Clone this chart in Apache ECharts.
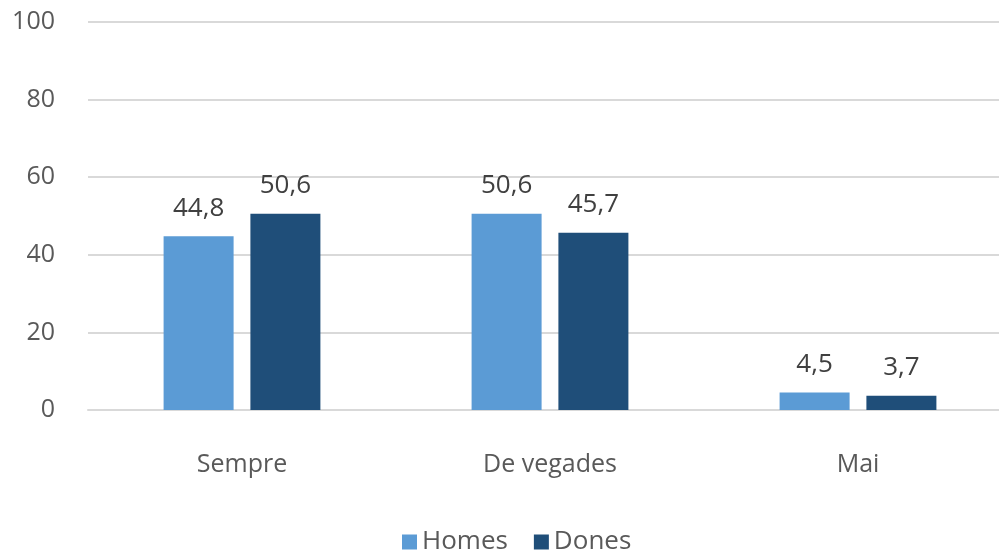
<!DOCTYPE html>
<html>
<head>
<meta charset="utf-8">
<script src="https://cdn.jsdelivr.net/npm/echarts@6/dist/echarts.min.js"></script>
<style>
  html, body { margin: 0; padding: 0; background: #fff; overflow: hidden; }
  #chart { width: 1012px; height: 558px; }
</style>
</head>
<body>
<div id="chart"></div>
<script>
// dades del gràfic
var categories = ['Sempre', 'De vegades', 'Mai'];
var homes = [44.8, 50.6, 4.5];
var dones = [50.6, 45.7, 3.7];
var yTicks = [0, 20, 40, 60, 80, 100];

var fontFam = '"Open Sans", "Noto Sans", sans-serif';

function fmt(p) {
    return String(p.value).replace('.', ',');
}

var chart = echarts.init(document.getElementById('chart'));

var option = {
    animation: false,
    textStyle: { fontFamily: fontFam },
    grid: { left: 88, top: 22, right: 0, height: 388, containLabel: false },
    legend: {
        bottom: -2,
        left: 397,
        itemWidth: 15,
        itemHeight: 15,
        itemGap: 26,
        icon: 'rect',
        textStyle: { fontSize: 26, color: '#595959', fontFamily: fontFam },
        data: ['Homes', 'Dones']
    },
    xAxis: {
        type: 'category',
        data: categories,
        axisLine: { lineStyle: { color: '#d9d9d9', width: 2 } },
        axisTick: { show: false },
        axisLabel: { fontSize: 25, color: '#595959', margin: 42 }
    },
    yAxis: {
        type: 'value',
        min: yTicks[0],
        max: yTicks[yTicks.length - 1],
        interval: 20,
        axisLine: { show: false },
        axisTick: { show: false },
        splitLine: { lineStyle: { color: '#d9d9d9', width: 2 } },
        axisLabel: { fontSize: 25, color: '#595959', margin: 33 }
    },
    series: [
        {
            name: 'Homes',
            type: 'bar',
            data: homes,
            barWidth: 70,
            barGap: '24%',
            itemStyle: { color: '#5b9bd5' },
            label: { show: true, position: 'top', distance: 15, fontSize: 26, color: '#404040', formatter: fmt }
        },
        {
            name: 'Dones',
            type: 'bar',
            data: dones,
            barWidth: 70,
            barGap: '24%',
            itemStyle: { color: '#1f4e79' },
            label: { show: true, position: 'top', distance: 15, fontSize: 26, color: '#404040', formatter: fmt }
        }
    ]
};

chart.setOption(option);
</script>
</body>
</html>
